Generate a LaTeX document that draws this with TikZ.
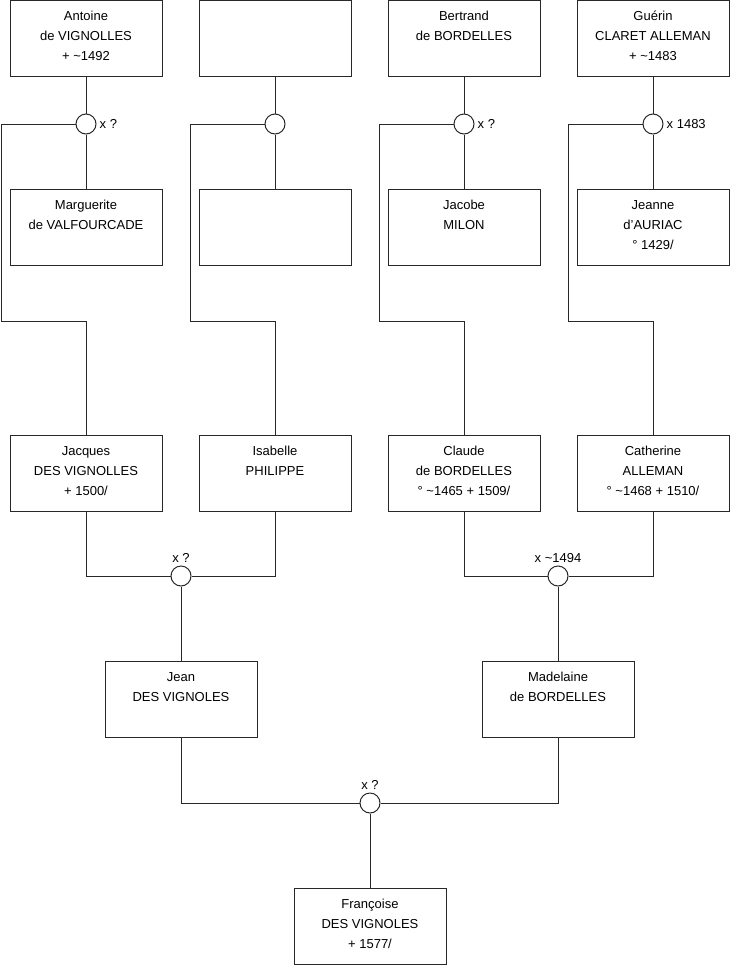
\documentclass[tikz,border=0pt]{standalone}
\usepackage{fontspec}
\setmainfont{Liberation Sans}
\usepackage{tikz}
\usetikzlibrary{positioning}
\definecolor{lineg}{RGB}{40,40,40}
\tikzset{
  pbox/.style={draw=lineg,line width=1pt,minimum width=152pt,minimum height=76pt,
    align=center,inner sep=0pt,text height=52pt,text depth=8pt,
    font=\fontsize{13}{20}\selectfont},
  wed/.style={draw=lineg,line width=1pt,circle,fill=white,minimum size=20pt,inner sep=0pt},
  wedlab/.style={font=\fontsize{13}{15}\selectfont,inner sep=1pt,label distance=2pt},
  link/.style={draw=lineg,line width=1pt}
}
\begin{document}
\begin{tikzpicture}[x=1pt,y=-1pt]
  \useasboundingbox (0,0) rectangle (740,975);
  % generation 4
  \node[pbox] (antoine) at (86,38) {Antoine\\de VIGNOLLES\\+ \textasciitilde1492};
  \node[pbox] (blank1) at (275,38) {};
  \node[pbox] (bertrand) at (464,38) {Bertrand\\de BORDELLES\\\mbox{}};
  \node[pbox] (guerin) at (653,38) {Guérin\\CLARET ALLEMAN\\+ \textasciitilde1483};
  \node[pbox] (marguerite) at (86,227) {Marguerite\\de VALFOURCADE\\\mbox{}};
  \node[pbox] (blank2) at (275,227) {};
  \node[pbox] (jacobe) at (464,227) {Jacobe\\MILON\\\mbox{}};
  \node[pbox] (jeanne) at (653,227) {Jeanne\\d'AURIAC\\° 1429/};
  \node[wed,label={[wedlab,label distance=2pt]right:x ?}] (m1) at (86,124) {};
  \node[wed] (m2) at (275,124) {};
  \node[wed,label={[wedlab,label distance=2pt]right:x ?}] (m3) at (464,124) {};
  \node[wed,label={[wedlab,label distance=2pt]right:x 1483}] (m4) at (653,124) {};
  \draw[link] (antoine) -- (m1) -- (marguerite);
  \draw[link] (blank1) -- (m2) -- (blank2);
  \draw[link] (bertrand) -- (m3) -- (jacobe);
  \draw[link] (guerin) -- (m4) -- (jeanne);
  % generation 3
  \node[pbox] (jacques) at (86,473) {Jacques\\DES VIGNOLLES\\+ 1500/};
  \node[pbox] (isabelle) at (275,473) {Isabelle\\PHILIPPE\\\mbox{}};
  \node[pbox] (claude) at (464,473) {Claude\\de BORDELLES\\° \textasciitilde1465 + 1509/};
  \node[pbox] (catherine) at (653,473) {Catherine\\ALLEMAN\\° \textasciitilde1468 + 1510/};
  \draw[link] (m1.west) -- ++(-74,0) -- ++(0,197) -| (jacques.north);
  \draw[link] (m2.west) -- ++(-74,0) -- ++(0,197) -| (isabelle.north);
  \draw[link] (m3.west) -- ++(-74,0) -- ++(0,197) -| (claude.north);
  \draw[link] (m4.west) -- ++(-74,0) -- ++(0,197) -| (catherine.north);
  \node[wed,label={[wedlab]above:x ?}] (m5) at (181,576) {};
  \node[wed,label={[wedlab]above:x \textasciitilde1494}] (m6) at (558,576) {};
  \draw[link] (jacques.south) |- (m5.west);
  \draw[link] (isabelle.south) |- (m5.east);
  \draw[link] (claude.south) |- (m6.west);
  \draw[link] (catherine.south) |- (m6.east);
  % generation 2
  \node[pbox] (jean) at (181,699) {Jean\\DES VIGNOLES\\\mbox{}};
  \node[pbox] (madelaine) at (558,699) {Madelaine\\de BORDELLES\\\mbox{}};
  \draw[link] (m5) -- (jean);
  \draw[link] (m6) -- (madelaine);
  \node[wed,label={[wedlab]above:x ?}] (m7) at (370,803) {};
  \draw[link] (jean.south) |- (m7.west);
  \draw[link] (madelaine.south) |- (m7.east);
  % generation 1
  \node[pbox] (francoise) at (370,926) {Françoise\\DES VIGNOLES\\+ 1577/};
  \draw[link] (m7) -- (francoise);
\end{tikzpicture}
\end{document}
